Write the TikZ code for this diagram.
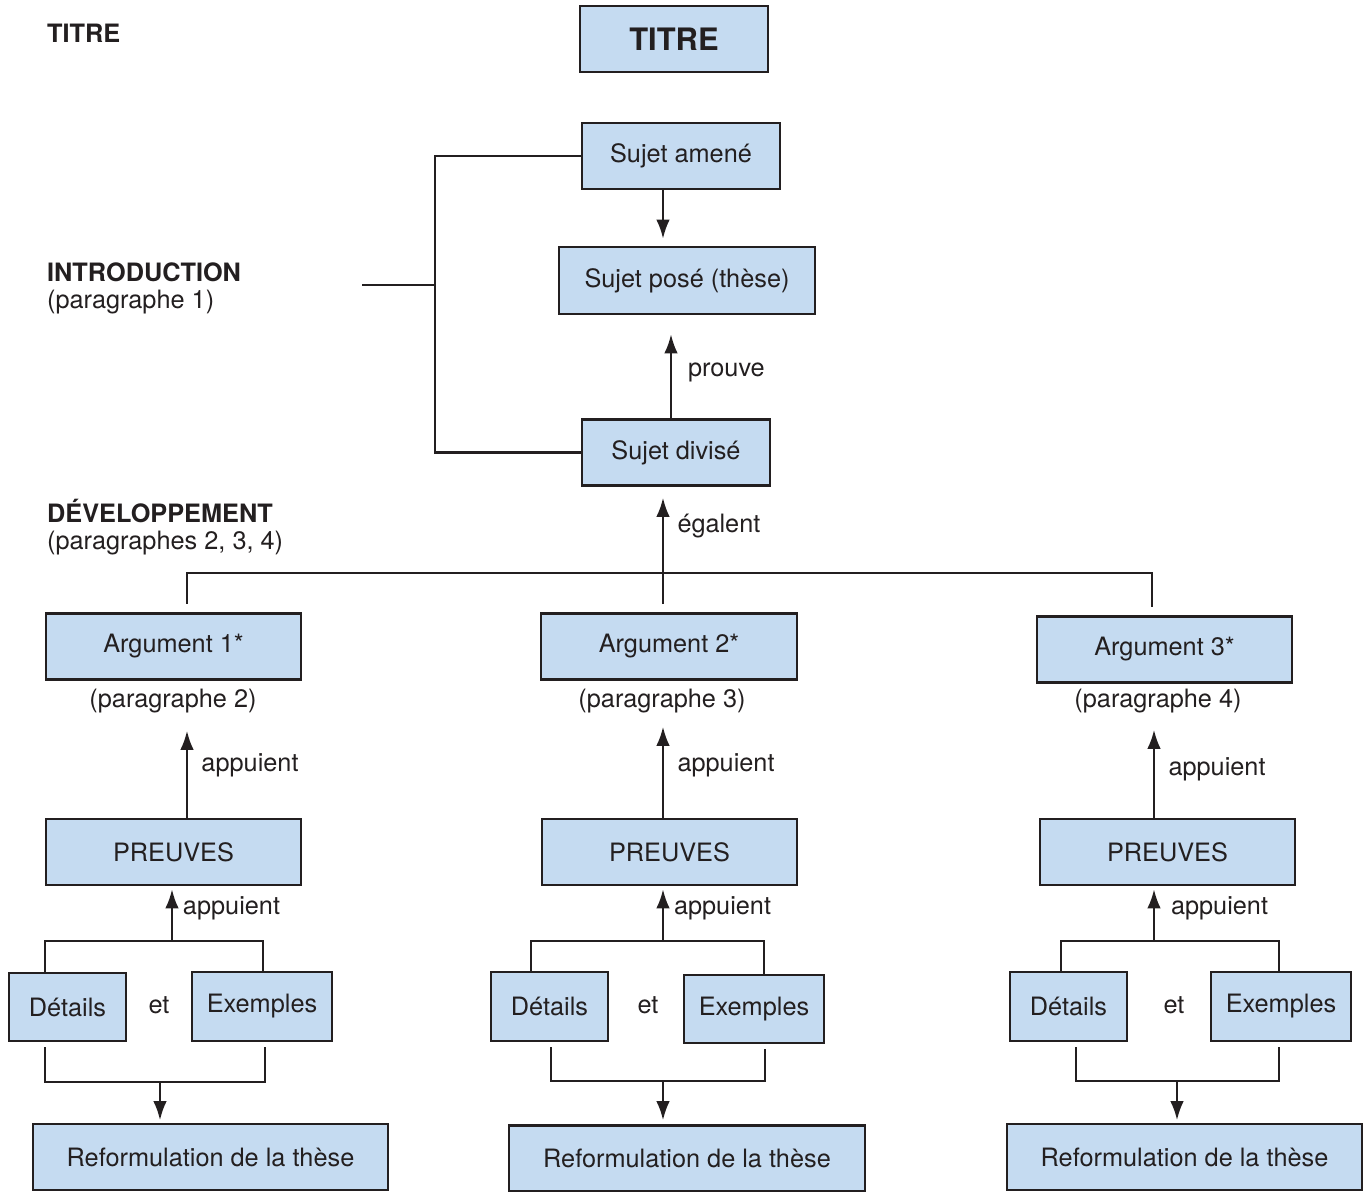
\documentclass[tikz,border=0pt]{standalone}
\usepackage{fontspec}
\setmainfont{TeX Gyre Heros}
\usetikzlibrary{positioning,arrows.meta}
\definecolor{boxblue}{RGB}{197,219,241}
\definecolor{inkgray}{RGB}{35,31,32}

\begin{document}
\begin{tikzpicture}[x=0.02cm, y=-0.02cm, line width=1.3pt, color=inkgray, font=\fontsize{14.4}{17}\selectfont,
	box/.style={draw=inkgray, fill=boxblue, line width=1.5pt, minimum height=1.32cm, inner sep=0pt},
	wd/.style={minimum width=#1*0.02cm},
	arr/.style={-{Latex[length=0.38cm, width=0.27cm]}},
	lbl/.style={inner sep=0pt, anchor=base west}]
	\useasboundingbox (0,0) rectangle (1366,1192);
	% left column labels
	\node[lbl] (ltitre) at (46,43) {\textbf{TITRE}};
	\node[lbl] (lintro) at (46,282) {\textbf{INTRODUCTION}};
	\node[lbl] (lintro2) at (46,309) {(paragraphe 1)};
	\node[lbl] (ldev) at (46,523) {\textbf{DÉVELOPPEMENT}};
	\node[lbl] (ldev2) at (46,550) {(paragraphes 2, 3, 4)};
	% introduction
	\node[box, wd=188, font=\fontsize{17.6}{20}\selectfont\bfseries] (titre) at (674,39) {TITRE};
	\node[box, wd=198] (amene) at (681,156) {Sujet amené};
	\node[box, wd=256, minimum height=1.34cm] (pose) at (687,280.5) {Sujet posé (thèse)};
	\node[box, wd=188] (divise) at (676,452.5) {Sujet divisé};
	\coordinate (stub) at (362,285);
	\coordinate (brk) at (435,285);
	\draw (stub) -- (brk);
	\draw (amene.west) -- (amene.west -| brk) -- (divise.west -| brk) -- (divise.west);
	\draw[arr, shorten >=0.14cm] (amene.south -| 663,0) -- (pose.north -| 663,0);
	\draw[arr, shorten >=0.38cm] (divise.north -| 671,0) -- (pose.south -| 671,0) node[pos=0.44, right=0.2cm] {prouve};
	% developpement
	\node[box, wd=255] (arg1) at (173.5,646.5) {Argument 1*};
	\node[box, wd=256] (arg2) at (669,646.5) {Argument 2*};
	\node[box, wd=255] (arg3) at (1164.5,649.5) {Argument 3*};
	\node (par2) at (173,701) {(paragraphe 2)};
	\node (par3) at (662,701) {(paragraphe 3)};
	\node (par4) at (1158,701) {(paragraphe 4)};
	\coordinate (bar) at (663,573);
	\draw[shorten <=0.17cm, shorten >=0.17cm] (arg1.north -| 187,0) -- (bar -| 187,0) -- (bar -| 1152,0) -- (arg3.north -| 1152,0);
	\draw[arr, shorten <=0.16cm, shorten >=0.22cm] (arg2.north -| bar) -- (divise.south -| bar) node[pos=0.69, right=0.15cm] {égalent};
	% preuves
	\node[box, wd=255] (pr1) at (173.5,852) {PREUVES};
	\node[box, wd=255] (pr2) at (669.5,852) {PREUVES};
	\node[box, wd=255] (pr3) at (1167.5,852) {PREUVES};
	\draw[arr, shorten >=1.0cm] (pr1.north -| 187,0) -- (arg1.south -| 187,0) node[pos=0.38, right=0.15cm] {appuient};
	\draw[arr, shorten >=0.92cm] (pr2.north -| 663,0) -- (arg2.south -| 663,0) node[pos=0.38, right=0.15cm] {appuient};
	\draw[arr, shorten >=0.92cm] (pr3.north -| 1154,0) -- (arg3.south -| 1154,0) node[pos=0.36, right=0.15cm] {appuient};
	% details et exemples
	\node[box, wd=117, minimum height=1.36cm] (det1) at (67.5,1007) {Détails};
	\node[box, wd=140, minimum height=1.38cm] (ex1) at (262,1006.5) {Exemples};
	\node[box, wd=117, minimum height=1.38cm] (det2) at (549.5,1006.5) {Détails};
	\node[box, wd=140, minimum height=1.36cm] (ex2) at (754,1009) {Exemples};
	\node[box, wd=117, minimum height=1.38cm] (det3) at (1068.5,1006.5) {Détails};
	\node[box, wd=140, minimum height=1.38cm] (ex3) at (1281,1006.5) {Exemples};
	\node (et1) at (159,1005) {et};
	\node (et2) at (648,1005) {et};
	\node (et3) at (1174,1005) {et};
	\coordinate (top1) at (172,941);
	\coordinate (top2) at (663,941);
	\coordinate (top3) at (1154,941);
	\draw (det1.north -| 45,0) -- (top1 -| 45,0) -- (top1 -| 263,0) -- (ex1.north -| 263,0);
	\draw (det2.north -| 531,0) -- (top2 -| 531,0) -- (top2 -| 764,0) -- (ex2.north -| 764,0);
	\draw (det3.north -| 1061,0) -- (top3 -| 1061,0) -- (top3 -| 1279,0) -- (ex3.north -| 1279,0);
	\draw[arr, shorten >=0.06cm] (top1) -- (pr1.south -| top1) node[pos=0.6, right=0.08cm] {appuient};
	\draw[arr, shorten >=0.06cm] (top2) -- (pr2.south -| top2) node[pos=0.6, right=0.08cm] {appuient};
	\draw[arr, shorten >=0.06cm] (top3) -- (pr3.south -| top3) node[pos=0.6, right=0.2cm] {appuient};
	% reformulation
	\node[box, wd=355] (ref1) at (210.5,1157) {Reformulation de la thèse};
	\node[box, wd=356] (ref2) at (687,1158.5) {Reformulation de la thèse};
	\node[box, wd=355] (ref3) at (1184.5,1157) {Reformulation de la thèse};
	\coordinate (bot1) at (160,1082);
	\coordinate (bot2) at (663,1081);
	\coordinate (bot3) at (1177,1081);
	\draw[shorten <=0.1cm, shorten >=0.1cm] (det1.south -| 45,0) -- (bot1 -| 45,0) -- (bot1 -| 265,0) -- (ex1.south -| 265,0);
	\draw[shorten <=0.1cm, shorten >=0.1cm] (det2.south -| 551,0) -- (bot2 -| 551,0) -- (bot2 -| 765,0) -- (ex2.south -| 765,0);
	\draw[shorten <=0.1cm, shorten >=0.1cm] (det3.south -| 1076,0) -- (bot3 -| 1076,0) -- (bot3 -| 1279,0) -- (ex3.south -| 1279,0);
	\draw[arr, shorten >=0.05cm] (bot1) -- (ref1.north -| bot1);
	\draw[arr, shorten >=0.08cm] (bot2) -- (ref2.north -| bot2);
	\draw[arr, shorten >=0.05cm] (bot3) -- (ref3.north -| bot3);
\end{tikzpicture}
\end{document}
